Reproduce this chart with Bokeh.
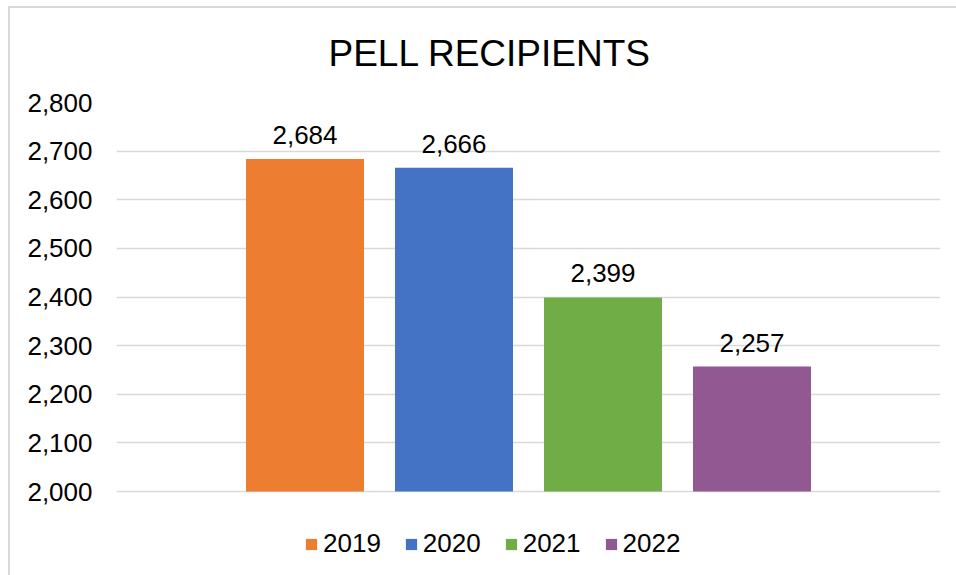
from bokeh.plotting import figure
from bokeh.models import ColumnDataSource, Range1d, FixedTicker, NumeralTickFormatter
from bokeh.core.properties import value
from bokeh.embed import file_html
from bokeh.resources import INLINE

title_text = "PELL RECIPIENTS"
years = ["2019", "2020", "2021", "2022"]
recipients = [2684, 2666, 2399, 2257]
colors = ["#ED7D31", "#4472C4", "#70AD47", "#925891"]
y_ticks = [2000, 2100, 2200, 2300, 2400, 2500, 2600, 2700, 2800]

FONT = "Liberation Sans"

xs = [i + 1 for i in range(len(years))]
source = ColumnDataSource(dict(
    x=xs,
    top=recipients,
    color=colors,
    year=years,
    label=[f"{v:,}" for v in recipients],
))

# plot frame spans y=102..575 px; axis 2000..2800 occupies 102..491 px
px_per_unit = (491 - 102) / (y_ticks[-1] - y_ticks[0])
y_start = y_ticks[0] - (575 - 491) / px_per_unit

p = figure(
    width=956, height=575,
    output_backend="svg", toolbar_location=None,
    x_range=Range1d(-0.265, 5.265),
    y_range=Range1d(y_start, y_ticks[-1]),
    min_border_left=116, min_border_right=16,
    min_border_top=102, min_border_bottom=0,
)
p.outline_line_color = None
p.background_fill_color = "white"
p.border_fill_alpha = 0
# light gray chart-area border (left and top edges visible in the view)
p.styles = {
    "background": (
        "linear-gradient(#D9D9D9, #D9D9D9) 8px 6px / 2px 100% no-repeat, "
        "linear-gradient(#D9D9D9, #D9D9D9) 8px 6px / 100% 2px no-repeat, "
        "#FFFFFF"
    )
}

p.title.text = title_text
p.title.align = "left"
p.title.offset = 212
p.title.text_font = FONT
p.title.text_font_size = "37px"
p.title.text_font_style = "normal"
p.title.text_color = "#000000"
p.title.standoff = 57

r = p.vbar(x="x", top="top", bottom=y_ticks[0], width=0.792, source=source,
           fill_color="color", line_color=None, legend_field="year")

p.text(x="x", y="top", text="label", source=source, text_align="center",
       text_baseline="alphabetic", y_offset=-24, text_font=value(FONT),
       text_font_size="26px", text_color="#000000")

p.xaxis.visible = False
p.xgrid.visible = False
p.ygrid.grid_line_color = "#D9D9D9"
p.ygrid.grid_line_width = 1.5

ya = p.yaxis[0]
ya.ticker = FixedTicker(ticks=y_ticks)
ya.formatter = NumeralTickFormatter(format="0,0")
ya.axis_line_color = None
ya.major_tick_line_color = None
ya.minor_tick_line_color = None
ya.major_tick_out = 0
ya.major_label_standoff = 24
ya.major_label_text_font = FONT
ya.major_label_text_font_size = "26px"
ya.major_label_text_color = "#000000"

leg = p.legend[0]
leg.orientation = "horizontal"
leg.location = (188, 16)
leg.padding = 0
leg.margin = 0
leg.spacing = 23
leg.glyph_width = 14
leg.glyph_height = 14
leg.label_standoff = 5
leg.label_text_font = FONT
leg.label_text_font_size = "26px"
leg.label_text_color = "#000000"
leg.border_line_color = None
leg.background_fill_alpha = 0

open("out.html", "w").write(file_html(p, INLINE))
